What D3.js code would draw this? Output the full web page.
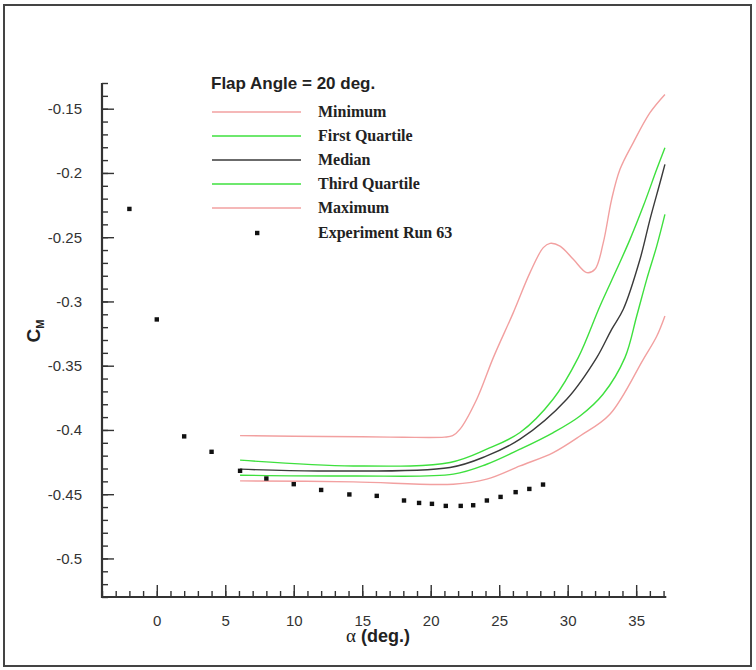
<!DOCTYPE html>
<html><head><meta charset="utf-8">
<script src="https://cdn.jsdelivr.net/npm/d3@7"></script>
<style>body{margin:0;background:#fff}svg{display:block}</style>
</head><body>
<svg id="c" width="756" height="670"></svg>
<script>
// ---- data ----
const seriesNames = ["Minimum","First Quartile","Median","Third Quartile","Maximum","Experiment Run 63"];
const legendTitle = "Flap Angle = 20 deg.";
const xTicks = [0,5,10,15,20,25,30,35];
const yTicks = [-0.5,-0.45,-0.4,-0.35,-0.3,-0.25,-0.2,-0.15];

const upperPinkA = [6.08,10,15,18,21.0,21.6,22.14,23.36,24.57,26.03,27.25,28.22,28.71,29.44,30.41,31.39,31.99,32.6,33.21,33.82,34.79,36.01,37.1];
const upperPinkV = [-0.4044,-0.4049,-0.4053,-0.4057,-0.4056,-0.4045,-0.3994,-0.3761,-0.3437,-0.3087,-0.2776,-0.2581,-0.2548,-0.2569,-0.2672,-0.2776,-0.2750,-0.2542,-0.2205,-0.1972,-0.1764,-0.1531,-0.1389];

const upperGreenA = [6.08,14.35,21.41,24.09,26.52,28.93,30.77,32.36,33.58,34.55,35.52,36.5,37.1];
const upperGreenV = [-0.4235,-0.4280,-0.4253,-0.4150,-0.4020,-0.3761,-0.3437,-0.3035,-0.2750,-0.2517,-0.2258,-0.1972,-0.1803];

const medianA = [6.08,11.92,21.41,24.09,26.52,29.93,32.12,33.21,34.06,35.28,36.01,36.74,37.1];
const medianV = [-0.4305,-0.4319,-0.4292,-0.4202,-0.4072,-0.3761,-0.3437,-0.3217,-0.3061,-0.2672,-0.2361,-0.2076,-0.1933];

const lowerGreenA = [6.08,14.35,21.65,24.09,26.52,28.95,30.9,32.58,34.18,35.04,35.77,36.5,37.1];
const lowerGreenV = [-0.4352,-0.4358,-0.4344,-0.4267,-0.4150,-0.4020,-0.3891,-0.3722,-0.3437,-0.3113,-0.2828,-0.2569,-0.2322];

const lowerPinkA = [6.08,14.35,21.65,24.09,26.52,28.95,30.9,33.08,35.52,36.5,37.1];
const lowerPinkV = [-0.4396,-0.4404,-0.4422,-0.4383,-0.4280,-0.4176,-0.4047,-0.3878,-0.3450,-0.3271,-0.3113];

const expA = [-2,0,2,4,6.08,8,10,12,14.06,16.06,18.05,19.15,20.09,21.1,22.19,23.1,24.1,25.1,26.2,27.2,28.2];
const expV = [-0.228,-0.314,-0.405,-0.417,-0.4318,-0.4378,-0.4422,-0.4467,-0.4502,-0.4513,-0.4549,-0.4568,-0.4575,-0.4591,-0.4591,-0.4586,-0.4549,-0.4521,-0.4484,-0.4459,-0.4425];

// ---- drawing ----
const svg = d3.select("#c");
const pink = "#f2a0a0", green = "#3ee03e", dark = "#3a3a3a", axisCol = "#333";

svg.append("rect").attr("x",4).attr("y",5).attr("width",747).attr("height",661)
  .attr("fill","none").attr("stroke","#444").attr("stroke-width",2);

const x = d3.scaleLinear().domain([-4,37.2]).range([102,666.3]);
const y = d3.scaleLinear().domain([-0.53,-0.13]).range([597,83]);

// axes
const gx = svg.append("g").attr("transform","translate(0,597)");
gx.call(d3.axisBottom(x).tickValues(d3.range(-4,38,1)).tickSize(-6).tickFormat(""))
  .call(g=>g.select(".domain").remove());
gx.call(g=>g.append("g").call(d3.axisBottom(x).tickValues(xTicks).tickSize(-12).tickPadding(18).tickFormat(d3.format("d"))));
gx.selectAll("line").attr("stroke",axisCol).attr("stroke-width",1.4);
gx.selectAll(".domain").remove();
gx.selectAll("text").attr("fill","#333").style("font-family","Liberation Sans, Arial, sans-serif").style("font-size","15px");

const gy = svg.append("g").attr("transform","translate(102,0)");
gy.call(d3.axisLeft(y).tickValues(d3.range(-53,-12,1).map(d=>d/100)).tickSize(-6).tickFormat(""))
  .call(g=>g.select(".domain").remove());
gy.call(g=>g.append("g").call(d3.axisLeft(y).tickValues(yTicks).tickSize(-12).tickPadding(20).tickFormat(d=>String(+d.toFixed(2)))));
gy.selectAll("line").attr("stroke",axisCol).attr("stroke-width",1.4);
gy.selectAll(".domain").remove();
gy.selectAll("text").attr("fill","#333").style("font-family","Liberation Sans, Arial, sans-serif").style("font-size","15px");

svg.append("path").attr("d",`M102,83V597H666.3`).attr("fill","none").attr("stroke",axisCol).attr("stroke-width",2.2);

// axis titles
svg.append("text").attr("x",356).attr("y",642).attr("text-anchor","end")
  .style("font-family","Liberation Serif, Times New Roman, serif").style("font-size","19px").attr("fill","#222").text("α");
svg.append("text").attr("x",361).attr("y",642).attr("text-anchor","start")
  .style("font-family","Liberation Sans, Arial, sans-serif").style("font-weight","bold").style("font-size","18px").attr("fill","#222").text("(deg.)");

const yt = svg.append("text").attr("transform","translate(40,331) rotate(-90)").attr("text-anchor","middle")
  .style("font-family","Liberation Sans, Arial, sans-serif").style("font-weight","bold").attr("fill","#222");
yt.append("tspan").style("font-size","19px").text("C");
yt.append("tspan").style("font-size","11px").attr("dy",4).text("M");

// curves
const line = d3.line().x(d=>x(d[0])).y(d=>y(d[1])).curve(d3.curveCatmullRom.alpha(0.5));
const zip = (a,v)=>a.map((d,i)=>[d,v[i]]);
const curves = [
  {a:upperPinkA,v:upperPinkV,c:pink},
  {a:lowerPinkA,v:lowerPinkV,c:pink},
  {a:upperGreenA,v:upperGreenV,c:green},
  {a:lowerGreenA,v:lowerGreenV,c:green},
  {a:medianA,v:medianV,c:dark}
];
curves.forEach(s=>{
  svg.append("path").datum(zip(s.a,s.v)).attr("d",line).attr("fill","none")
    .attr("stroke",s.c).attr("stroke-width",1.4);
});

// experiment
svg.append("g").selectAll("rect").data(zip(expA,expV)).join("rect")
  .attr("x",d=>x(d[0])-2.2).attr("y",d=>y(d[1])-2.2).attr("width",4.4).attr("height",4.4).attr("fill","#111");

// legend
svg.append("text").attr("x",211).attr("y",89).text(legendTitle)
  .style("font-family","Liberation Sans, Arial, sans-serif").style("font-weight","bold").style("font-size","17px").attr("fill","#222");
const legCols = [pink,green,dark,green,pink];
const legY = [112,136,160,184,208,233];
seriesNames.forEach((n,i)=>{
  if(i<5){
    svg.append("line").attr("x1",212).attr("x2",301).attr("y1",legY[i]).attr("y2",legY[i])
      .attr("stroke",legCols[i]).attr("stroke-width",1.5);
  } else {
    svg.append("rect").attr("x",255).attr("y",legY[i]-2.2).attr("width",4.4).attr("height",4.4).attr("fill","#111");
  }
  svg.append("text").attr("x",318).attr("y",legY[i]+5).text(n)
    .style("font-family","Liberation Serif, Times New Roman, serif").style("font-weight","bold").style("font-size","16px").attr("fill","#222");
});
</script>
</body></html>
